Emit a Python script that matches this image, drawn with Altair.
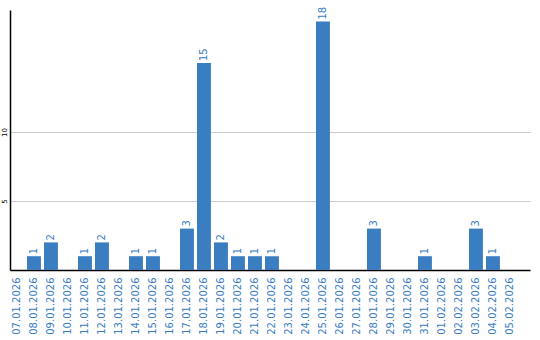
import altair as alt
import pandas as pd

dates = ["07.01.2026", "08.01.2026", "09.01.2026", "10.01.2026", "11.01.2026",
         "12.01.2026", "13.01.2026", "14.01.2026", "15.01.2026", "16.01.2026",
         "17.01.2026", "18.01.2026", "19.01.2026", "20.01.2026", "21.01.2026",
         "22.01.2026", "23.01.2026", "24.01.2026", "25.01.2026", "26.01.2026",
         "27.01.2026", "28.01.2026", "29.01.2026", "30.01.2026", "31.01.2026",
         "01.02.2026", "02.02.2026", "03.02.2026", "04.02.2026", "05.02.2026"]
counts = [0, 1, 2, 0, 1, 2, 0, 1, 1, 0,
          3, 15, 2, 1, 1, 1, 0, 0, 18, 0,
          0, 3, 0, 0, 1, 0, 0, 3, 1, 0]
y_ticks = [5, 10]

df = pd.DataFrame({"date": dates, "count": counts})
BLUE = "#3a7dc1"
FONT = "DejaVu Sans"

x = alt.X("date:N", sort=dates, title=None,
          scale=alt.Scale(paddingInner=0.18, paddingOuter=0.385, align=0),
          axis=alt.Axis(labelAngle=270, labelAlign="right", labelBaseline="middle",
                        labelPadding=7, ticks=False, domainColor="black",
                        domainWidth=1.5, labelColor=BLUE, labelFont=FONT,
                        labelFontSize=10, labelOverlap=False, grid=False))
y = alt.Y("count:Q", title=None,
          scale=alt.Scale(domain=[0, 18.84], nice=False),
          axis=alt.Axis(values=y_ticks, labelAngle=270, labelAlign="center",
                        labelBaseline="bottom", labelPadding=3, ticks=False,
                        domainColor="black", domainWidth=1.5, labelColor="black",
                        labelFont=FONT, labelFontSize=7, gridColor="#cccccc",
                        grid=True))

bars = alt.Chart(df).mark_bar(color=BLUE).encode(x=x, y=y)
labels = alt.Chart(df).transform_filter("datum.count > 0").mark_text(
    angle=270, align="left", baseline="middle", dx=2, color=BLUE,
    font=FONT, fontSize=10
).encode(x=alt.X("date:N", sort=dates), y=alt.Y("count:Q"), text="count:Q")

chart = (bars + labels).properties(
    width=520, height=260,
    background="white",
    autosize=alt.AutoSizeParams(type="none"),
    padding={"left": 10, "top": 10, "right": 10, "bottom": 70},
).configure_view(strokeWidth=0, stroke=None)

chart.save("out.html", embed_options={"renderer": "svg", "actions": False})
